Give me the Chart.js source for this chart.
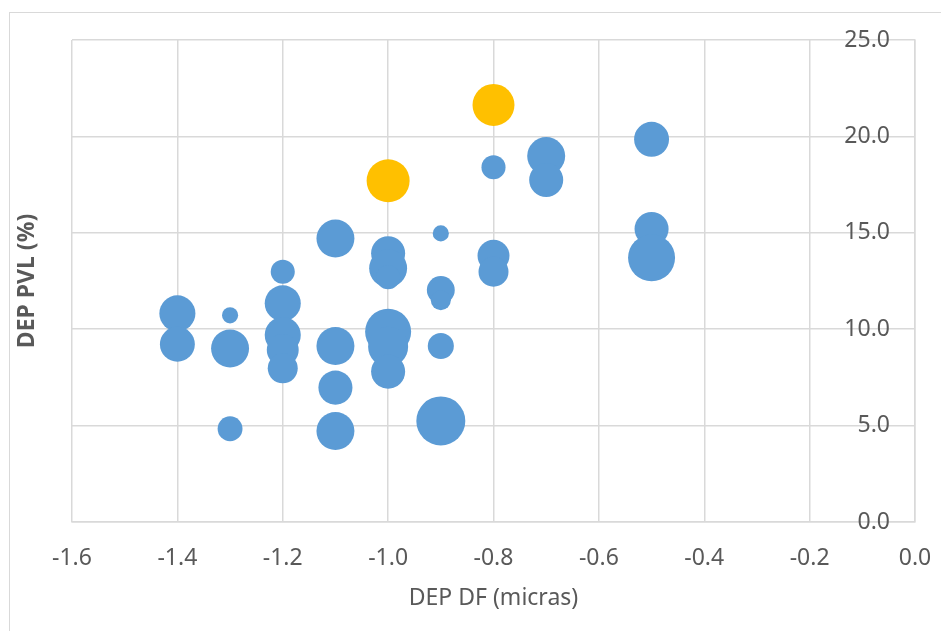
<!DOCTYPE html>
<html>
<head>
<meta charset="utf-8">
<script src="https://cdn.jsdelivr.net/npm/chart.js@4.4.1/dist/chart.umd.min.js"></script>
<style>
  html, body { margin: 0; padding: 0; background: #ffffff; }
  #wrap { position: relative; width: 941px; height: 631px; overflow: hidden; }
  #frame { position: absolute; left: 9px; top: 12px; width: 960px; height: 660px;
           border-left: 1px solid #d9d9d9; border-top: 1px solid #d9d9d9; pointer-events: none; }
  canvas { position: absolute; left: 0; top: 0; }
</style>
</head>
<body>
<div id="wrap">
  <canvas id="c" width="941" height="631"></canvas>
  <div id="frame"></div>
</div>
<script>
// ---- Data ----
// Blue series: DEP DF (x), DEP PVL (y), bubble size
const blueX = [-1.4, -1.4, -1.3, -1.3, -1.3, -1.2, -1.2, -1.2, -1.2, -1.2,
               -1.1, -1.1, -1.1, -1.1, -1.0, -1.0, -1.0, -1.0, -1.0, -1.0,
               -0.9, -0.9, -0.9, -0.9, -0.9, -0.8, -0.8, -0.8, -0.7, -0.7,
               -0.5, -0.5, -0.5];
const blueY = [10.82, 9.22, 10.72, 9.0, 4.84, 12.98, 11.34, 9.7, 8.92, 7.97,
               14.7, 9.13, 6.97, 4.72, 13.94, 13.16, 12.7, 9.87, 9.09, 7.8,
               14.97, 12.03, 11.5, 9.13, 5.24, 18.4, 13.81, 12.98, 18.98, 17.74,
               19.85, 15.2, 13.7];
const blueSize = [13.0, 12.2, 2.6, 14.4, 6.2, 5.8, 13.0, 13.0, 10.2, 9.0,
                  14.4, 14.4, 11.6, 14.4, 11.6, 14.4, 5.8, 21.2, 16.0, 11.6,
                  2.6, 7.8, 4.0, 6.8, 24.0, 5.8, 10.2, 9.0, 14.4, 11.6,
                  12.2, 11.6, 22.1];
// Highlighted (gold) series
const goldX = [-1.0, -0.8];
const goldY = [17.7, 21.63];
const goldSize = [18.5, 17.6];

const xTicks = ['-1.6', '-1.4', '-1.2', '-1.0', '-0.8', '-0.6', '-0.4', '-0.2', '0.0'];
const yTicks = ['0.0', '5.0', '10.0', '15.0', '20.0', '25.0'];
const xTitle = 'DEP DF (micras)';
const yTitle = 'DEP PVL (%)';

// ---- Build points for Chart.js ----
const SIZE_SCALE = 5; // radius = SIZE_SCALE * sqrt(size)  (area proportional to size)
function toPoints(xs, ys, ss) {
  return xs.map((x, i) => ({ x: x, y: ys[i], r: SIZE_SCALE * Math.sqrt(ss[i]) }));
}

const FONT = "'Liberation Sans Narrow', 'Arial Narrow', 'Noto Sans', sans-serif";
const TXT = '#595959';
const GRID = '#d9d9d9';

function fmt(v) {
  if (Math.abs(v) < 1e-9) return '0.0';
  return Number(v).toFixed(1);
}

new Chart(document.getElementById('c'), {
  type: 'bubble',
  data: {
    datasets: [
      { label: 'blue', data: toPoints(blueX, blueY, blueSize),
        backgroundColor: '#5b9bd5', borderWidth: 0, xAxisID: 'x', yAxisID: 'y' },
      { label: 'gold', data: toPoints(goldX, goldY, goldSize),
        backgroundColor: '#ffc000', borderWidth: 0, xAxisID: 'x', yAxisID: 'y' }
    ]
  },
  options: {
    responsive: false,
    animation: false,
    events: [],
    layout: { padding: { left: 0, right: 0, top: 40, bottom: 0 } },
    plugins: { legend: { display: false }, tooltip: { enabled: false } },
    scales: {
      x: {
        type: 'linear', position: 'bottom',
        min: -1.6, max: 0,
        afterBuildTicks: (s) => { s.ticks = xTicks.map(t => ({ value: parseFloat(t) })); },
        ticks: { callback: (v) => fmt(v), color: TXT, padding: 0,
                 font: { family: FONT, size: 23 }, maxRotation: 0, autoSkip: false },
        grid: { color: GRID, lineWidth: 1.5, drawTicks: true, tickLength: 23,
                tickColor: 'rgba(0,0,0,0)' },
        border: { display: true, color: GRID, width: 1.5 },
        title: { display: true, text: xTitle, color: TXT,
                 font: { family: FONT, size: 23 }, padding: { top: 0, bottom: 19 } },
        afterFit: (s) => { s.height = 109; }
      },
      y: {
        type: 'linear', position: 'right',
        min: 0, max: 25,
        afterBuildTicks: (s) => { s.ticks = yTicks.map(t => ({ value: parseFloat(t) })); },
        ticks: { callback: (v) => fmt(v), color: TXT, mirror: true, padding: -25,
                 font: { family: FONT, size: 23 } },
        grid: { color: GRID, lineWidth: 1.5, drawTicks: false },
        border: { display: true, color: GRID, width: 1.5 },
        afterFit: (s) => { s.width = 26; }
      },
      yTitleAxis: {
        type: 'linear', position: 'left', display: true,
        min: 0, max: 25,
        ticks: { display: false },
        grid: { display: false, drawTicks: false },
        border: { display: false },
        title: { display: true, text: yTitle, color: TXT,
                 font: { family: FONT, size: 23, weight: 'bold' }, padding: { top: 14, bottom: 0 } },
        afterFit: (s) => { s.width = 72; }
      }
    }
  }
});
</script>
</body>
</html>
